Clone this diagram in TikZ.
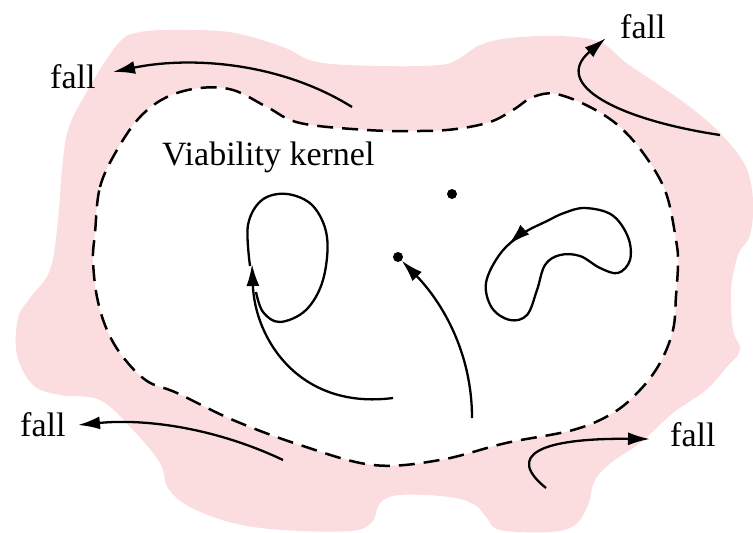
\documentclass[tikz,border=0pt]{standalone}
\usepackage{fontspec}
\setmainfont{Liberation Serif}
\usetikzlibrary{arrows.meta,decorations.markings}
\definecolor{fallpink}{RGB}{251,221,223}
\tikzset{
  tipstyle/.tip={Latex[length=22pt,width=13pt]},
  arr/.style={line width=2.3pt,-tipstyle},
  traj/.style={line width=2.3pt},
  kern/.style={line width=2.5pt,dash pattern=on 16pt off 9pt},
  lbl/.style={inner sep=0pt,anchor=base west,font=\fontsize{34}{40}\selectfont},
  dotpt/.style={circle,fill=black,inner sep=0pt,minimum size=10pt}
}
\begin{document}
\begin{tikzpicture}[x=1pt,y=-1pt]
\useasboundingbox (0,0) rectangle (753,533);
% pink region
\fill[fallpink] plot[smooth cycle,tension=0.6] coordinates {
(117,45) (140,32) (190,30) (235,33) (283,47) (317,62) (380,66) (440,65)
(460,58) (480,45) (510,38) (560,36) (600,42) (625,62) (656,83) (690,107)
(720,133) (745,165) (753,200) (750,235) (738,255) (731,290) (733,330)
(740,350) (726,368) (706,390) (673,413) (640,443) (612,462) (595,480)
(588,505) (575,525) (550,532) (500,530) (487,518) (475,505) (450,497)
(400,495) (380,503) (372,522) (350,531) (283,530) (233,523) (190,507)
(168,488) (160,463) (133,430) (100,400) (60,395) (33,385) (17,355)
(18,318) (30,298) (50,270) (58,220) (62,170) (68,130) (85,95)};
% kernel
\def\kernpts{(95,233) (100,187) (117,150) (140,117) (167,97) (200,88)
(233,90) (267,107) (300,123) (367,130) (420,131) (456,129) (490,122)
(513,110) (533,97) (556,94) (590,107) (620,127) (646,157) (666,193)
(676,240) (678,263) (676,296) (673,330) (660,363) (640,390) (613,413)
(573,430) (506,443) (440,460) (373,465) (300,445) (233,420) (177,393)
(147,381) (123,357) (107,330) (97,297) (93,260)}
\fill[white] plot[smooth cycle,tension=0.6] coordinates {\kernpts};
\draw[kern] plot[smooth cycle,tension=0.6] coordinates {\kernpts};
% labels
\node[lbl] (fall1) at (50,88) {fall};
\node[lbl] (fall2) at (620,38) {fall};
\node[lbl] (fall3) at (20,436) {fall};
\node[lbl] (fall4) at (670,446) {fall};
\node[lbl] (vk) at (162,165) {Viability kernel};
% dots
\node[dotpt] (p1) at (452,194) {};
\node[dotpt] (p2) at (398,257) {};
% fall arrows
\coordinate (s1) at (352,107); \coordinate (t1) at (113,72);
\coordinate (s2) at (720,135); \coordinate (t2) at (606,38);
\coordinate (s3) at (283,460); \coordinate (t3) at (78,425);
\coordinate (s4) at (546,488); \coordinate (t4) at (650,439);
\draw[arr] (s1) .. controls (280,62) and (190,56) .. (t1);
\draw[arr] (s2) .. controls (620,120) and (550,85) .. (t2);
\draw[arr] (s3) .. controls (220,430) and (150,418) .. (t3);
\draw[arr] (s4) .. controls (505,455) and (540,438) .. (t4);
% trajectory to dot
\coordinate (s5) at (472,418);
\draw[arr] (s5) .. controls (472,350) and (440,300) .. (p2.south east);
% left limit cycle
\coordinate (s6) at (393,398); \coordinate (t6) at (252,264);
\draw[arr] (s6) .. controls (300,410) and (255,340) .. (t6);
\draw[traj] plot[smooth,tension=0.6] coordinates {(250,266) (248,225) (262,200) (287,194) (313,206) (327,237) (323,280) (306,310) (280,322) (263,312) (256,292)};
% right kidney cycle
\draw[traj,postaction={decorate},decoration={markings,mark=at position 0.04 with {\arrow{tipstyle}}}]
 plot[smooth cycle,tension=0.6] coordinates {(547,221) (522,234) (500,254) (486,283) (492,308) (510,320) (527,315) (537,290) (545,265) (560,255) (580,256) (600,268) (618,273) (630,260) (628,237) (612,215) (585,208) (564,213)};
\end{tikzpicture}
\end{document}
